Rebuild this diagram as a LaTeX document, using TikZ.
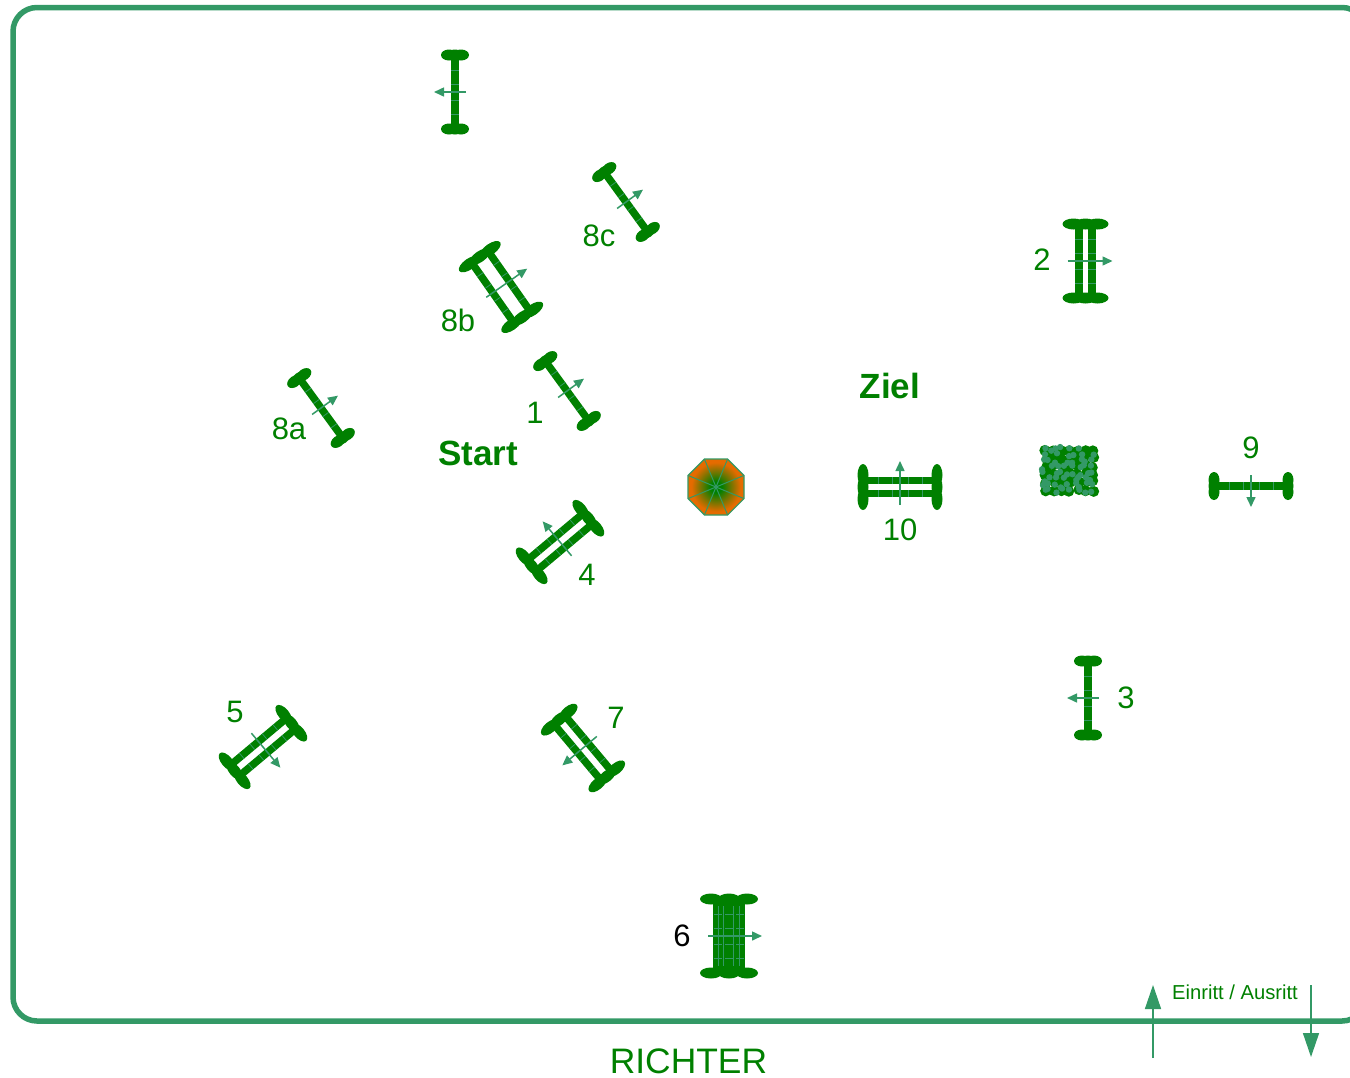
\documentclass[tikz,border=0pt]{standalone}
\usepackage{fontspec}
\setmainfont{Liberation Sans}
\usetikzlibrary{arrows.meta}
\definecolor{leaf}{HTML}{008000}
\definecolor{sea}{HTML}{339966}
\definecolor{roof}{HTML}{E56B00}
\pgfdeclareradialshading{umbrella}{\pgfpointorigin}{color(0bp)=(leaf); color(5bp)=(leaf); color(22bp)=(roof); color(100bp)=(roof)}
\tikzset{
 rail/.style={leaf,line width=7.5pt},
 seam/.style={sea,line width=0.8pt},
 blob/.style={fill=leaf},
 ride/.style={sea,line width=1.5pt,-{Triangle[length=10pt,width=9pt]}},
 gate/.style={sea,line width=1.5pt,-{Triangle[length=24pt,width=16pt]}},
 num/.style={text=leaf,inner sep=0pt,font=\fontsize{31}{31}\selectfont},
 tag/.style={text=leaf,inner sep=0pt,font=\fontsize{35}{35}\selectfont\bfseries}}
\newcommand{\jump}[7]{
 \begin{scope}[shift={(#1)},rotate=#2]
  \foreach \r in {#3} {
   \draw[rail] (\r,-37)--(\r,37);
   \foreach \s in {-22,-8,8,22} \draw[seam] (\r-3.7,\s)--(\r+3.7,\s);
  }
  \foreach \b in {#4} {
   \fill[blob] (\b,-37) ellipse (#5 and 5.5);
   \fill[blob] (\b,37) ellipse (#5 and 5.5);
  }
  \draw[ride] (#6,0)--(#7,0);
 \end{scope}}
\begin{document}
\begin{tikzpicture}[x=1pt,y=-1pt]
 \useasboundingbox (0,0) rectangle (1350,1077);
 \draw[sea,line width=5.5pt,rounded corners=24pt] (13,7.5) rectangle (1366,1021);
 \jump{455,92}{180}{0}{-6,0,6}{8}{-11}{21}
 \jump{626,202}{36}{0}{-6,0,6}{8}{-11}{21}
 \jump{321,408}{36}{0}{-6,0,6}{8}{-11}{21}
 \jump{567,391}{36}{0}{-6,0,6}{8}{-11}{21}
 \jump{1088,698}{180}{0}{-6,0,6}{8}{-11}{21}
 \jump{1251,486}{270}{0}{-6,0,6}{8}{-11}{21}
 \jump{501,287}{35}{-10,10}{-13,0,13}{12}{-18}{32}
 \jump{560,542}{130}{-7,7}{-12,0,12}{11}{-18}{27}
 \jump{263,747}{310}{-7,7}{-12,0,12}{11}{-18}{27}
 \jump{583,748}{220}{-7,7}{-12,0,12}{11}{-18}{27}
 \jump{1085.5,261}{0}{-6.5,6.5}{-12,0,12}{11}{-18}{27}
 \jump{900,487}{90}{-6.5,6.5}{-12,0,12}{11}{-18}{26}
 \begin{scope}[shift={(729,936)}]
  \fill[leaf] (-16,-37) rectangle (16,37);
 \end{scope}
 \jump{729,936}{0}{-11,0,11}{-18,0,18}{11}{-21}{33}
 \begin{scope}[shift={(729,936)}]
  \foreach \r in {-11,-6,4,10} \draw[seam] (\r,-30)--(\r,30);
 \end{scope}
 \begin{scope}[shift={(716,487)}]
  \shade[shading=umbrella] (22.5:30.3) \foreach \a in {67.5,112.5,...,337.5} {--(\a:30.3)} --cycle;
  \foreach \a in {22.5,67.5,...,337.5} \draw[sea,line width=1pt] (0,0)--(\a:30.3);
  \draw[sea,line width=1.2pt] (22.5:30.3) \foreach \a in {67.5,112.5,...,337.5} {--(\a:30.3)} --cycle;
 \end{scope}
 \pgfmathsetseed{41}
 \foreach \i in {0,...,6} \foreach \j in {0,...,5} {
  \pgfmathsetmacro{\bx}{1045.5+\i*8+rand*1.5}
  \pgfmathsetmacro{\by}{450+\j*8+rand*1.5}
  \fill[leaf] (\bx,\by) circle (5.5);
 }
 \foreach \i in {0,...,8} \foreach \j in {0,...,7} {
  \pgfmathsetmacro{\bx}{1044+\i*6+rand*2.5}
  \pgfmathsetmacro{\by}{449+\j*6+rand*2.5}
  \pgfmathparse{rand>-0.6?1:0}
  \ifnum\pgfmathresult=1 \fill[sea] (\bx,\by) circle (3.2); \fi
 }
 \node[num] (n8c) at (599,236) {8c};
 \node[num] (n8b) at (458,320) {8b};
 \node[num] (n1) at (535,413) {1};
 \node[num] (n8a) at (289,429) {8a};
 \node[num] (n2) at (1042,260) {2};
 \node[num] (n10) at (900,530) {10};
 \node[num] (n9) at (1251,448) {9};
 \node[num] (n3) at (1126,698) {3};
 \node[num] (n4) at (587,575) {4};
 \node[num] (n5) at (235,712) {5};
 \node[num] (n7) at (616,718) {7};
 \node[num,text=black] (n6) at (682,936) {6};
 \node[tag] (start) at (478,453.5) {Start};
 \node[tag] (ziel) at (890,386) {Ziel};
 \node[num,font=\fontsize{35.4}{35.4}\selectfont] (richter) at (688.5,1061) {RICHTER};
 \node[num,font=\fontsize{20.2}{20.2}\selectfont] (einritt) at (1235,992) {Einritt / Ausritt};
 \coordinate (ina) at (1153,1058);
 \coordinate (inb) at (1153,985);
 \coordinate (outa) at (1311,985);
 \coordinate (outb) at (1311,1057);
 \draw[gate] (ina)--(inb);
 \draw[gate] (outa)--(outb);
\end{tikzpicture}
\end{document}
